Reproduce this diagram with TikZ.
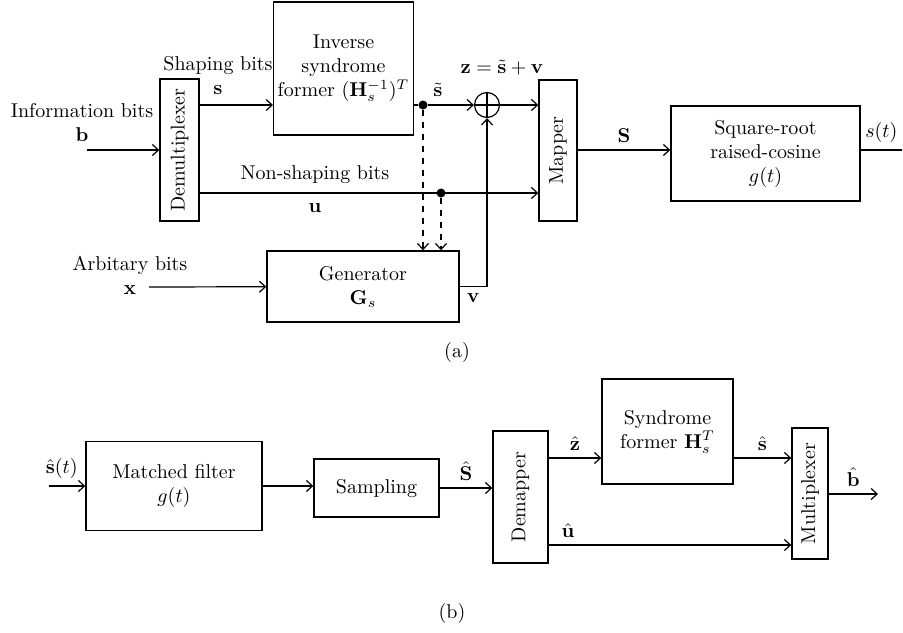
\documentclass[tikz,border=0pt]{standalone}
\usepackage{tikz}
\usetikzlibrary{positioning,arrows.meta,calc}
\tikzset{
  blk/.style={rectangle,draw,line width=0.7pt,align=center,inner sep=2pt},
  vblk/.style={blk,rotate=90},
  fl/.style={-{Straight Barb[length=3pt,width=5.5pt]},line width=0.6pt},
  ln/.style={line width=0.6pt},
  tap/.style={circle,fill,inner sep=0pt,minimum size=4.5pt},
  lbl/.style={inner sep=1pt,align=center},
}

\begin{document}
\begin{tikzpicture}[x=0.5pt,y=-0.5pt]
  \useasboundingbox (0,0) rectangle (903,632);
  % (a) transmitter (rotated boxes: north = left side, south = right side)
  \node[vblk,minimum width=71pt,minimum height=19.5pt] (demux) at (179.5,150) {Demultiplexer};
  \node[blk,minimum width=67.5pt,minimum height=66.5pt] (isf) at (343.5,68.5) {Inverse\\syndrome\\former $(\mathbf{H}_s^{-1})^T$};
  \node[blk,minimum width=96pt,minimum height=35.5pt] (gen) at (363,286.5) {Generator\\$\mathbf{G}_s$};
  \node[circle,draw,line width=0.6pt,minimum size=12.5pt,inner sep=0pt] (add) at (487,105) {};
  \node[vblk,minimum width=70.5pt,minimum height=19pt] (mapper) at (558,150.5) {Mapper};
  \node[blk,minimum width=94.5pt,minimum height=47.5pt] (srrc) at (765.5,153.5) {Square-root\\raised-cosine\\$g(t)$};
  \node[tap] (d1) at (423,105) {};
  \node[tap] (d2) at (441,193) {};
  \coordinate (bin) at (87,150);
  \coordinate (xin) at (149,287);
  \coordinate (sout) at (902,150);
  \node[lbl] (infol) at (82,122) {Information bits\\$\mathbf{b}$};
  \node[lbl] (shpl) at (218,75) {Shaping bits\\$\mathbf{s}$};
  \node[lbl] (arbl) at (130,275) {Arbitary bits\\$\mathbf{x}$};
  \node[lbl] (nshl) at (315,175) {Non-shaping bits};
  \node[lbl] (ul) at (315,208) {$\mathbf{u}$};
  \node[lbl] (stl) at (438,90) {$\tilde{\mathbf{s}}$};
  \node[lbl] (zl) at (502,68) {$\mathbf{z}=\tilde{\mathbf{s}}+\mathbf{v}$};
  \node[lbl] (capa) at (457,352) {(a)};
  \draw[fl] (bin) -- (demux);
  \draw[fl] (demux.south |- d1) -- (isf.west |- d1);
  \draw[ln] (isf.east |- d1) -- (d1);
  \draw[fl] (d1) -- (add);
  \draw[fl] (add) -- (add -| mapper.north);
  \draw[fl] (demux.south |- d2) -- (d2 -| mapper.north);
  \draw[fl,dashed] (d1) -- (d1 |- gen.north);
  \draw[fl,dashed] (d2) -- (d2 |- gen.north);
  \draw[fl] (xin) -- (gen);
  \draw[fl] (gen.east) -| node[pos=0.25,below]{$\mathbf{v}$} (add.south);
  \draw[ln] (add.north) -- (add.south) (add.west) -- (add.east);
  \draw[fl] (mapper.south |- bin) -- node[above]{$\mathbf{S}$} (srrc.west |- bin);
  \draw[ln] (srrc.east |- bin) -- node[above]{$s(t)$} (sout);
  % (b) receiver
  \node[blk,minimum width=88pt,minimum height=44.5pt] (mf) at (174,486) {Matched filter\\$g(t)$};
  \node[blk,minimum width=62.5pt,minimum height=29pt] (samp) at (376.5,488) {Sampling};
  \node[vblk,minimum width=66pt,minimum height=27.5pt] (demap) at (520.5,497) {Demapper};
  \node[blk,minimum width=65.5pt,minimum height=52.5pt] (sf) at (667.5,431.5) {Syndrome\\former $\mathbf{H}_s^T$};
  \node[vblk,minimum width=65.5pt,minimum height=18pt] (mux) at (810,493.5) {Multiplexer};
  \coordinate (sin) at (49,486);
  \coordinate (zlev) at (548,458);
  \coordinate (ulev) at (548,545);
  \coordinate (bout) at (878,494);
  \node[lbl] (capb) at (452,613) {(b)};
  \draw[fl] (sin) -- node[above,pos=0.35]{$\hat{\mathbf{s}}(t)$} (mf);
  \draw[fl] (mf) -- (mf -| samp.west);
  \draw[fl] (samp) -- node[above]{$\hat{\mathbf{S}}$} (samp -| demap.north);
  \draw[fl] (demap.south |- zlev) -- node[above]{$\hat{\mathbf{z}}$} (sf.west |- zlev);
  \draw[fl] (sf.east |- zlev) -- node[above]{$\hat{\mathbf{s}}$} (mux.north |- zlev);
  \draw[fl] (demap.south |- ulev) -- node[above,pos=0.08]{$\hat{\mathbf{u}}$} (mux.north |- ulev);
  \draw[fl] (mux.south |- bout) -- node[above]{$\hat{\mathbf{b}}$} (bout);
\end{tikzpicture}
\end{document}
